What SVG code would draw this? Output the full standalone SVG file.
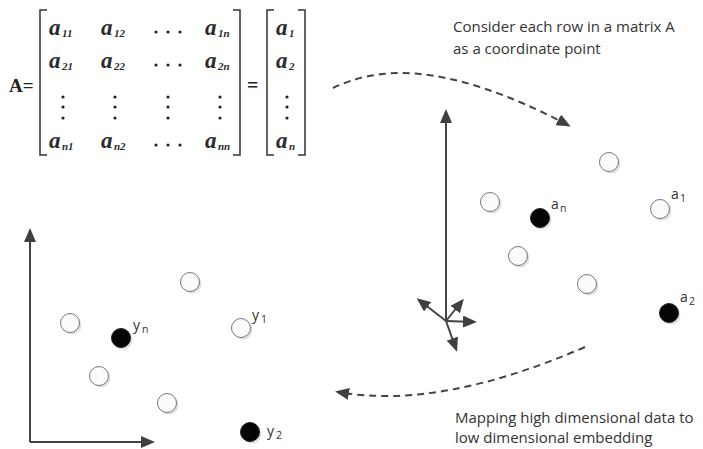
<svg xmlns="http://www.w3.org/2000/svg" width="703" height="449" viewBox="0 0 703 449">
<style>
.m{font-family:"Liberation Serif",serif;font-style:italic;font-weight:bold;font-size:23px;fill:#2a2a2a}
.s{font-family:"Liberation Serif",serif;font-style:italic;font-weight:bold;font-size:11px;fill:#2a2a2a}
.br{fill:none;stroke:#333;stroke-width:1.5}
.dot{fill:#222}
.t{font-family:"Open Sans","Liberation Sans",sans-serif;font-size:15px;fill:#333}
.lb{font-family:"Open Sans","Liberation Sans",sans-serif;font-size:14px;fill:#333}
.ls{font-family:"Open Sans","Liberation Sans",sans-serif;font-size:10.5px;fill:#333}
.ax{fill:none;stroke:#444;stroke-width:2}
.dash{fill:none;stroke:#444;stroke-width:2;stroke-dasharray:7 5}
.w{fill:#fbfbfb;stroke:#777;stroke-width:1}
.b{fill:#050505;stroke:#222;stroke-width:1}
.sh{fill:#ccc;opacity:0.6}
</style>
<defs>
<marker id="ah" markerUnits="userSpaceOnUse" markerWidth="14" markerHeight="12" refX="11" refY="6" orient="auto">
<path d="M0,0 L14,6 L0,12 z" fill="#404040"/>
</marker>
</defs>

<g id="matrix">
<text x="9" y="92" font-family="Liberation Serif,serif" font-weight="bold" font-size="19" fill="#222">A=</text>
<path class="br" d="M47,10 H40 V155 H47"/>
<path class="br" d="M233,10 H240 V155 H233"/>
<text x="247" y="92" font-family="Liberation Serif,serif" font-weight="bold" font-size="20" fill="#222">=</text>
<path class="br" d="M274,10 H267 V155 H274"/>
<path class="br" d="M298,10 H305 V155 H298"/>
<text class="m" x="49" y="35">a</text><text class="s" x="62" y="37">11</text>
<text class="m" x="101" y="35">a</text><text class="s" x="114" y="37">12</text>
<circle class="dot" cx="156" cy="32" r="1.6"/><circle class="dot" cx="168" cy="32" r="1.6"/><circle class="dot" cx="180" cy="32" r="1.6"/>
<text class="m" x="205" y="35">a</text><text class="s" x="218" y="37">1n</text>
<text class="m" x="49" y="68">a</text><text class="s" x="62" y="70">21</text>
<text class="m" x="101" y="68">a</text><text class="s" x="114" y="70">22</text>
<circle class="dot" cx="156" cy="65" r="1.6"/><circle class="dot" cx="168" cy="65" r="1.6"/><circle class="dot" cx="180" cy="65" r="1.6"/>
<text class="m" x="205" y="68">a</text><text class="s" x="218" y="70">2n</text>
<g>
<circle class="dot" cx="63" cy="97" r="1.6"/><circle class="dot" cx="63" cy="107" r="1.6"/><circle class="dot" cx="63" cy="118" r="1.6"/>
<circle class="dot" cx="115" cy="97" r="1.6"/><circle class="dot" cx="115" cy="107" r="1.6"/><circle class="dot" cx="115" cy="118" r="1.6"/>
<circle class="dot" cx="168" cy="97" r="1.6"/><circle class="dot" cx="168" cy="107" r="1.6"/><circle class="dot" cx="168" cy="118" r="1.6"/>
<circle class="dot" cx="220" cy="97" r="1.6"/><circle class="dot" cx="220" cy="107" r="1.6"/><circle class="dot" cx="220" cy="118" r="1.6"/>
<circle class="dot" cx="287" cy="97" r="1.6"/><circle class="dot" cx="287" cy="107" r="1.6"/><circle class="dot" cx="287" cy="118" r="1.6"/>
</g>
<text class="m" x="49" y="148">a</text><text class="s" x="62" y="150">n1</text>
<text class="m" x="101" y="148">a</text><text class="s" x="114" y="150">n2</text>
<circle class="dot" cx="156" cy="145" r="1.6"/><circle class="dot" cx="168" cy="145" r="1.6"/><circle class="dot" cx="180" cy="145" r="1.6"/>
<text class="m" x="205" y="148">a</text><text class="s" x="218" y="150">nn</text>
<text class="m" x="276" y="35">a</text><text class="s" x="289" y="37">1</text>
<text class="m" x="276" y="68">a</text><text class="s" x="289" y="70">2</text>
<text class="m" x="276" y="148">a</text><text class="s" x="289" y="150">n</text>
</g>

<g id="caption-top">
<text class="t" x="453" y="32">Consider each row in a matrix A</text>
<text class="t" x="453" y="54">as a coordinate point</text>
</g>
<g id="caption-bottom">
<text class="t" x="455" y="423">Mapping high dimensional data to</text>
<text class="t" x="455" y="443">low dimensional embedding</text>
</g>

<g id="connectors">
<path class="dash" d="M333,88 C375,68 440,58 568,125" marker-end="url(#ah)"/>
<path class="dash" d="M585,347 Q440,410 338,392" marker-end="url(#ah)"/>
</g>

<g id="axes-3d">
<path class="ax" d="M446,321 V112" marker-end="url(#ah)"/>
<path class="ax" d="M446,321 L419,300" marker-end="url(#ah)"/>
<path class="ax" d="M446,321 L462,301" marker-end="url(#ah)"/>
<path class="ax" d="M446,321 L474,322" marker-end="url(#ah)"/>
<path class="ax" d="M446,321 L456,349" marker-end="url(#ah)"/>
</g>

<g id="axes-2d">
<path class="ax" d="M30,442 V231" marker-end="url(#ah)"/>
<path class="ax" d="M30,442 H152" marker-end="url(#ah)"/>
</g>

<g id="high-points">
<g id="p-h1"><circle class="sh" cx="611" cy="164" r="9.5"/><circle class="w" cx="609" cy="162" r="9.5"/></g>
<g id="p-h2"><circle class="sh" cx="492" cy="204" r="9.5"/><circle class="w" cx="490" cy="202" r="9.5"/></g>
<g id="p-an"><circle class="sh" cx="542" cy="220" r="9.5"/><circle class="b" cx="540" cy="218" r="9.5"/><text class="lb" x="551" y="209">a</text><text class="ls" x="560" y="212">n</text></g>
<g id="p-a1"><circle class="sh" cx="662" cy="211" r="9.5"/><circle class="w" cx="660" cy="209" r="9.5"/><text class="lb" x="671" y="199">a</text><text class="ls" x="680" y="202">1</text></g>
<g id="p-h3"><circle class="sh" cx="520" cy="258" r="9.5"/><circle class="w" cx="518" cy="256" r="9.5"/></g>
<g id="p-h4"><circle class="sh" cx="589" cy="286" r="9.5"/><circle class="w" cx="587" cy="284" r="9.5"/></g>
<g id="p-a2"><circle class="sh" cx="671" cy="315" r="9.5"/><circle class="b" cx="669" cy="313" r="9.5"/><text class="lb" x="680" y="302">a</text><text class="ls" x="689" y="305">2</text></g>
</g>

<g id="low-points">
<g id="p-l1"><circle class="sh" cx="192" cy="284" r="9.5"/><circle class="w" cx="190" cy="282" r="9.5"/></g>
<g id="p-l2"><circle class="sh" cx="72" cy="325" r="9.5"/><circle class="w" cx="70" cy="323" r="9.5"/></g>
<g id="p-yn"><circle class="sh" cx="123" cy="340" r="9.5"/><circle class="b" cx="121" cy="338" r="9.5"/><text class="lb" x="133" y="330">y</text><text class="ls" x="142" y="333">n</text></g>
<g id="p-y1"><circle class="sh" cx="243" cy="330" r="9.5"/><circle class="w" cx="241" cy="328" r="9.5"/><text class="lb" x="252" y="320">y</text><text class="ls" x="261" y="323">1</text></g>
<g id="p-l3"><circle class="sh" cx="101" cy="378" r="9.5"/><circle class="w" cx="99" cy="376" r="9.5"/></g>
<g id="p-l4"><circle class="sh" cx="169" cy="405" r="9.5"/><circle class="w" cx="167" cy="403" r="9.5"/></g>
<g id="p-y2"><circle class="sh" cx="252" cy="434" r="9.5"/><circle class="b" cx="250" cy="432" r="9.5"/><text class="lb" x="267" y="436">y</text><text class="ls" x="276" y="439">2</text></g>
</g>
</svg>
